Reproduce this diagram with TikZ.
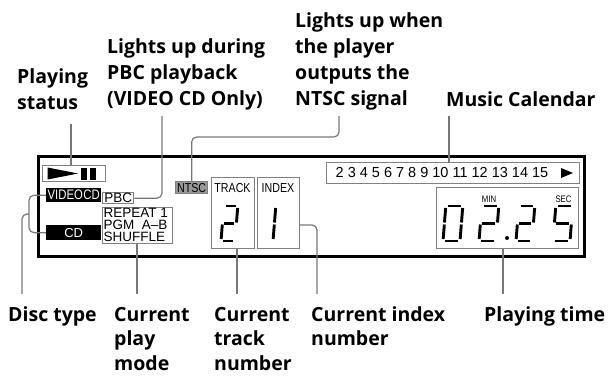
\documentclass[tikz,border=0pt]{standalone}
\usepackage{fontspec}
\setmainfont{Open Sans}
\newfontfamily\lcd{Liberation Sans}[FakeStretch=0.82]
\newfontfamily\lcdn{Liberation Sans}
\definecolor{lcdgray}{HTML}{808080}
\definecolor{leadgray}{HTML}{777777}
\newcommand\mylines[1]{\begin{tabular}[t]{@{}l@{}}#1\end{tabular}}
% seven segment digit: x, y (bottom-left), width, height, segment list
\newcommand\sga{\draw[seg] (2,-\hh) -- (\ww-2,-\hh);}
\newcommand\sgb{\draw[seg] (\ww,-\hh+2) -- (\ww,-\hh/2-1);}
\newcommand\sgc{\draw[seg] (\ww,-\hh/2+1) -- (\ww,-2);}
\newcommand\sgd{\draw[seg] (2,0) -- (\ww-2,0);}
\newcommand\sge{\draw[seg] (0,-\hh/2+1) -- (0,-2);}
\newcommand\sgf{\draw[seg] (0,-\hh+2) -- (0,-\hh/2-1);}
\newcommand\sgg{\draw[seg] (2,-\hh/2) -- (\ww-2,-\hh/2);}
\newcommand\sevseg[5]{%
  \begin{scope}[shift={(#1,#2)},xslant=0.08]
    \def\ww{#3}\def\hh{#4}%
    \foreach \s in {#5}{\csname sg\s\endcsname}
  \end{scope}}
\begin{document}
\begin{tikzpicture}[x=1pt,y=-1pt,
  lbl/.style={anchor=base west,inner sep=0,font=\bfseries\fontsize{19.5}{26.3}\selectfont},
  blbl/.style={anchor=base west,inner sep=0,font=\bfseries\fontsize{19.5}{24.5}\selectfont},
  gbox/.style={draw=lcdgray,line width=1.3pt,inner sep=0,anchor=north west},
  bbox/.style={fill=black,text=white,inner sep=0,anchor=north west},
  pmline/.style={anchor=base west,inner sep=0,font=\lcdn\fontsize{13.5}{12}\selectfont},
  leader/.style={draw=leadgray,line width=1.2pt,rounded corners=5pt},
  seg/.style={line width=2.9pt,line cap=butt}]
\useasboundingbox (0,0) rectangle (612,375);

% display frame
\node[draw=black,line width=3pt,inner sep=0,anchor=north west,minimum width=546,minimum height=100] (disp) at (37,155) {};

% playing status
\node[gbox,minimum width=63,minimum height=16] (ps) at (42,165) {};
\fill (47.5,167.5) -- (78,173.5) -- (47.5,179.5) -- cycle;
\fill (81,167.5) rectangle (87,179.5);
\fill (90,167.5) rectangle (95.5,179.5);

% disc type
\node[bbox,minimum width=55,minimum height=14,font=\lcd\fontsize{13.8}{13}\selectfont] (vcd) at (46,188) {VIDEO\hspace{0.5pt}CD};
\node[bbox,minimum width=55,minimum height=15,font=\lcdn\fontsize{13}{13}\selectfont] (cd) at (46,225) {CD};

% PBC
\node[gbox,minimum width=31,minimum height=11,font=\lcdn\fontsize{13.5}{13}\selectfont] (pbc) at (102,192) {PBC};

% play mode
\node[gbox,minimum width=70,minimum height=36] (pm) at (102,207) {};
\node[pmline] (pm1) at (103.5,217.5) {REPEAT 1};
\node[pmline] (pm2) at (103.5,229.5) {PGM\hspace{0.55em}A–B};
\node[pmline] (pm3) at (103.5,241.5) {SHUFFLE};

% NTSC
\node[gbox,fill=lcdgray!80,minimum width=32,minimum height=12,font=\lcd\fontsize{13}{13}\selectfont] (ntsc) at (175,181) {NTSC};

% track / index
\node[gbox,minimum width=43,minimum height=71] (tr) at (211,177) {};
\node[gbox,minimum width=42,minimum height=71] (ix) at (257,177) {};
\node[inner sep=0,font=\lcd\fontsize{13}{13}\selectfont] (trlbl) at (232.5,188) {TRACK};
\node[inner sep=0,font=\lcd\fontsize{13}{13}\selectfont] (ixlbl) at (278,188) {INDEX};
\sevseg{221}{241}{14}{35}{a,b,g,e,d}
\sevseg{273}{241}{0}{35}{b,c}

% music calendar
\node[gbox,minimum width=253,minimum height=21] (cal) at (326,162) {};
\node[anchor=west,inner sep=0,font=\lcdn\fontsize{14.5}{14.5}\selectfont] (calnum) at (335.5,173) {2 3 4 5 6 7 8 9 10 11 12 13 14 15};
\fill (561,168) -- (573,173) -- (561,178) -- cycle;

% playing time
\node[gbox,minimum width=142,minimum height=61] (tm) at (436,187) {};
\node[inner sep=0,font=\lcd\fontsize{9.5}{9.5}\selectfont] (min) at (489,199.5) {MIN};
\node[inner sep=0,font=\lcd\fontsize{9.5}{9.5}\selectfont] (sec) at (563.5,199.5) {SEC};
\sevseg{443}{241}{17}{35}{a,b,c,d,e,f}
\sevseg{479}{241}{17}{35}{a,b,g,e,d}
\fill (507,238) circle (2);
\sevseg{516}{241}{16}{35}{a,b,g,e,d}
\sevseg{553}{241}{17}{35}{a,f,g,c,d}

% top labels
\node[lbl] (lPS) at (17,83) {\mylines{Playing\\status}};
\node[lbl] (lPBC) at (107,53) {\mylines{Lights up during\\PBC playback\\(VIDEO CD Only)}};
\node[lbl] (lNTSC) at (295,27) {\mylines{Lights up when\\the player\\outputs the\\NTSC signal}};
\node[lbl] (lCal) at (446,106) {Music Calendar};

% bottom labels
\node[blbl] (lDisc) at (8,321) {Disc type};
\node[blbl] (lPM) at (114,321) {\mylines{Current\\play\\mode}};
\node[blbl] (lTR) at (214,321) {\mylines{Current\\track\\number}};
\node[blbl] (lIX) at (311,321) {\mylines{Current index\\number}};
\node[blbl] (lTM) at (484,321) {Playing time};

% leaders
\coordinate (psTop) at (71,124);
\draw[leader] (psTop) -- (psTop |- ps.north);
\coordinate (pbcTop) at (162,116);
\draw[leader] (pbcTop) |- (pbc.east);
\coordinate (ntscTop) at (339,116);
\coordinate (ntscBend) at (339,137);
\draw[leader] (ntscTop) -- (ntscBend) -| (ntsc.north);
\coordinate (calTop) at (449,116);
\draw[leader] (calTop) -- (calTop |- cal.north);
\coordinate (discBr) at (29,214);
\coordinate (discEnd) at (22,294);
\draw[leader] (vcd.west) -| (discBr) |- (cd.west);
\draw[leader] (discBr) -| (discEnd);
\coordinate (pmEnd) at (137,294);
\draw[leader] (pmEnd |- pm.south) -- (pmEnd);
\coordinate (trEnd) at (237,294);
\draw[leader] (trEnd |- tr.south) -- (trEnd);
\coordinate (ixOut) at (299,225);
\coordinate (ixEnd) at (317,294);
\draw[leader] (ixOut) -| (ixEnd);
\coordinate (tmEnd) at (503,294);
\draw[leader] (tmEnd |- tm.south) -- (tmEnd);
\end{tikzpicture}
\end{document}
